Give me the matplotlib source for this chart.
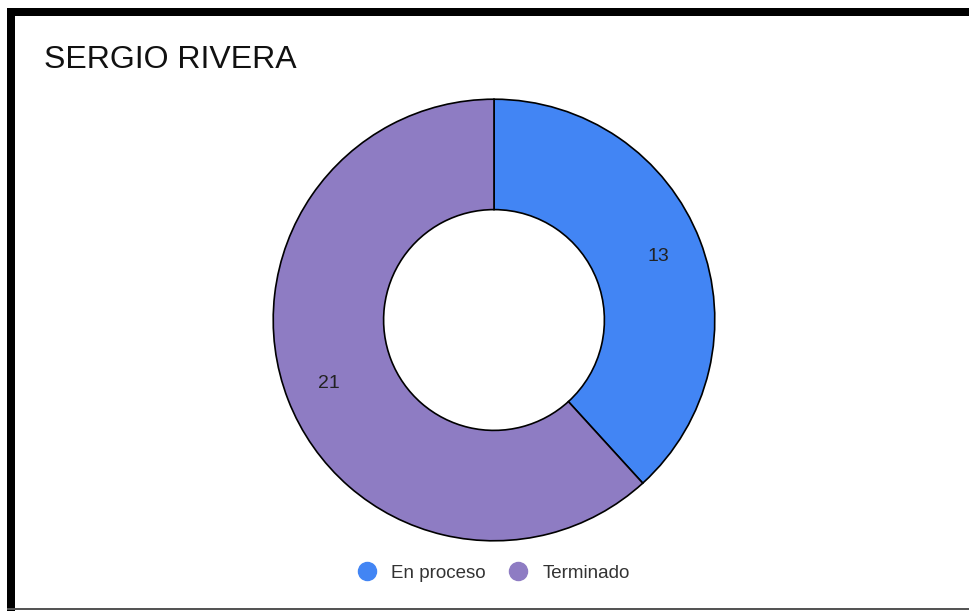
import matplotlib.pyplot as plt
import matplotlib.patches as patches
from matplotlib.lines import Line2D

plt.rcParams['font.family'] = ['Liberation Sans', 'DejaVu Sans']

title = 'SERGIO RIVERA'
labels = ['En proceso', 'Terminado']
values = [13, 21]
colors = ['#4285F4', '#8E7CC3']

W, H = 970, 611
fig = plt.figure(figsize=(W / 100, H / 100), dpi=100)
fig.patch.set_facecolor('white')

# frame borders (screenshot edges)
def px_rect(x, y, w, h, color):
    fig.add_artist(patches.Rectangle((x / W, 1 - (y + h) / H), w / W, h / H,
                                     transform=fig.transFigure, color=color, lw=0))

px_rect(7, 8, W - 7, 8, 'black')
px_rect(7, 8, 8, H - 8, 'black')
px_rect(7, 608, W - 7, 2, '#555555')

fig.text(44 / W, 1 - 60 / H, title, fontsize=23, va='center', ha='left', color='#111111')

cx, cy, r = 494, 320, 223
ax = fig.add_axes([(cx - r) / W, 1 - (cy + r) / H, 2 * r / W, 2 * r / H])
total = sum(values)
wedges, texts, autotexts = ax.pie(
    values, colors=colors, startangle=90, counterclock=False, radius=1,
    wedgeprops=dict(width=0.5, edgecolor='black', linewidth=1.2),
    autopct=lambda p: f'{round(p * total / 100)}', pctdistance=0.8,
    textprops=dict(fontsize=14, color='#222222'))
ax.set_xlim(-1.01, 1.01)
ax.set_ylim(-1.01, 1.01)
ax.axis('off')

handles = [Line2D([0], [0], marker='o', linestyle='', markersize=13,
                  markerfacecolor=c, markeredgecolor=c) for c in colors]
fig.legend(handles, labels, loc='center', bbox_to_anchor=(489 / W, 1 - 573 / H),
           ncol=2, frameon=False, fontsize=13.5, handletextpad=0.3,
           columnspacing=0.7, labelcolor='#333333')

fig.savefig('out.png', dpi=100)
